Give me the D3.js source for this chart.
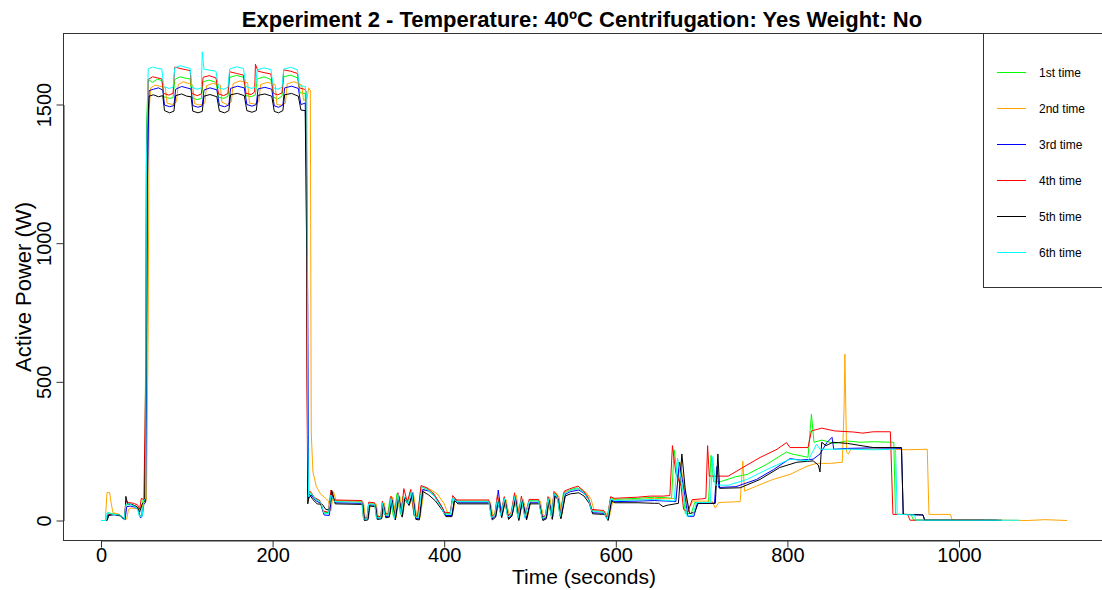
<!DOCTYPE html>
<html>
<head>
<meta charset="utf-8">
<script src="https://cdn.jsdelivr.net/npm/d3@7"></script>
<style>
  body { margin: 0; background: #fff; }
  text { font-family: "Liberation Sans", Arial, sans-serif; }
</style>
</head>
<body>
<div id="chart"></div>
<script>
// Data: [time (s), active power (W)]
const time1 = [[0,0],[6,0],[8,28],[14,24],[22,20],[25,12],[27,4],[29,55],[33,60],[38,55],[43,45],[45,15],[47,18],[49,75],[51,70],[52,600],[53,1420],[55,1590],
  [60,1580],[66,1592],[71,1585],[73,1528],[80,1522],[84,1525],[86,1590],[92,1600],[98,1595],[104,1592],[106,1524],[112,1518],[117,1522],[119,1582],[126,1588],[134,1580],[137,1526],[143,1522],[148,1530],[150,1598],[158,1605],[166,1598],[169,1532],[175,1528],[180,1535],[182,1592],[190,1600],[198,1590],[201,1526],[206,1520],[211,1530],[213,1600],[221,1606],[229,1596],[232,1542],[238,1540],
  [240,1300],[241,95],[244,100],[249,80],[255,68],[259,30],[265,28],[268,95],[272,70],[290,70],[304,68],[306,8],[310,6],[312,62],[319,60],[321,12],[326,10],[328,66],[330,22],[334,20],[337,82],[341,12],[345,96],[349,22],[352,88],[357,62],[361,108],[365,16],[369,12],[373,122],[380,114],[388,92],[396,52],[400,26],[407,24],[410,84],[414,70],
  [452,70],[455,12],[459,22],[462,78],[466,20],[470,82],[474,14],[478,24],[482,88],[486,10],[490,80],[494,12],[499,72],[510,72],[514,10],[518,16],[521,82],[525,14],[528,98],[532,86],[535,16],[539,100],[546,110],[555,118],[562,104],[568,78],[572,36],[586,32],[590,6],[594,82],[598,76],[625,80],[645,84],[660,82],[665,80],[668,255],[672,160],[678,120],[681,25],[688,25],[692,65],[708,65],[711,235],[714,140],
  [722,140],[740,158],[753,166],[776,203],[799,247],[805,240],[824,228],[828,383],[831,282],[840,290],[855,278],[869,287],[885,282],[900,284],[924,282],[926,22],[944,22],[947,2],[1040,1]];

const time2 = [[0,0],[5,0],[7,100],[10,101],[12,60],[14,28],[22,22],[25,10],[28,5],[30,5],[32,40],[35,45],[44,42],[47,48],[50,60],[53,75],[55,700],[56,1480],[58,1560],
  [63,1570],[70,1565],[75,1562],[77,1505],[83,1500],[88,1510],[90,1572],[96,1582],[103,1575],[107,1570],[109,1503],[115,1498],[121,1505],[123,1568],[130,1576],[139,1570],[141,1508],[147,1500],[152,1510],[154,1575],[162,1585],[171,1578],[173,1505],[179,1502],[184,1510],[186,1572],[194,1580],[203,1572],[205,1500],[210,1498],[215,1505],[217,1575],[225,1582],[234,1570],[236,1515],[240,1520],[242,1560],[244,1550],
  [245,320],[247,175],[251,122],[256,95],[262,80],[265,70],[268,35],[271,104],[274,72],[306,66],[308,10],[312,8],[314,60],[321,58],[323,14],[328,12],[330,64],[333,18],[337,22],[340,85],[344,10],[348,90],[352,20],[355,84],[360,60],[364,102],[368,14],[372,10],[377,118],[384,112],[392,96],[400,60],[404,28],[410,22],[413,80],[417,66],
  [454,66],[457,12],[461,26],[464,80],[468,22],[472,76],[476,14],[480,26],[484,92],[488,12],[492,78],[497,10],[501,70],[512,70],[516,8],[520,14],[523,84],[527,12],[530,100],[534,84],[537,18],[542,104],[549,110],[558,116],[565,102],[571,78],[575,34],[588,30],[592,6],[597,78],[601,72],[628,76],[645,80],[660,78],[670,80],[675,210],[680,120],[684,40],[690,70],[712,70],[716,45],[720,65],[745,68],[748,214],[750,106],
  [764,124],[783,148],[803,166],[823,196],[834,206],[850,206],[864,210],[866,400],[867,600],[868,420],[869,246],[871,240],[874,257],[900,258],[940,255],[963,257],[965,22],[990,22],[992,3],[1040,2],[1080,0],[1100,3],[1126,0]];

const time3 = [[0,0],[7,0],[9,22],[16,20],[23,18],[26,8],[28,2],[30,50],[34,52],[40,48],[43,40],[46,10],[48,15],[50,60],[52,65],[53,450],[54,1200],[56,1550],
  [61,1555],[67,1560],[72,1552],[74,1498],[80,1492],[85,1496],[87,1555],[94,1565],[100,1560],[105,1556],[107,1496],[113,1490],[118,1495],[120,1552],[127,1560],[135,1553],[138,1497],[144,1492],[149,1498],[151,1558],[159,1566],[167,1560],[170,1500],[176,1494],[181,1500],[183,1556],[191,1562],[199,1555],[202,1495],[207,1490],[212,1498],[214,1560],[222,1566],[230,1558],[233,1500],[238,1505],
  [240,1200],[241,750],[242,80],[245,92],[250,72],[256,62],[260,20],[266,18],[269,90],[273,64],[305,62],[307,2],[311,4],[313,56],[320,55],[322,6],[327,8],[329,60],[332,14],[336,16],[339,76],[343,6],[347,88],[351,16],[354,84],[359,58],[363,100],[367,8],[371,6],[375,112],[382,106],[390,84],[398,46],[402,18],[409,18],[412,78],[416,64],
  [453,64],[456,6],[460,16],[463,110],[467,14],[471,74],[475,8],[479,20],[483,84],[487,4],[491,74],[496,6],[500,64],[511,64],[515,4],[519,10],[522,76],[526,8],[529,92],[533,80],[536,10],[541,94],[547,104],[557,110],[563,98],[569,72],[573,28],[587,26],[591,2],[595,74],[599,68],[626,70],[645,72],[660,70],[670,68],[674,210],[679,120],[684,15],[691,15],[695,62],[715,62],[718,195],[720,119],
  [740,122],[764,148],[784,184],[803,223],[815,218],[830,221],[838,240],[846,281],[852,300],[854,257],[870,260],[900,262],[933,260],[935,22],[958,20],[960,1],[1045,1]];

const time4 = [[0,0],[6,0],[8,20],[15,22],[22,20],[25,8],[27,3],[29,70],[32,65],[38,62],[43,55],[45,40],[47,80],[50,75],[52,500],[53,1300],[55,1590],
  [60,1600],[66,1596],[71,1592],[73,1540],[79,1534],[84,1540],[86,1635],[92,1630],[98,1626],[104,1622],[106,1540],[112,1532],[117,1538],[119,1598],[126,1604],[134,1596],[137,1538],[143,1532],[148,1540],[150,1618],[158,1612],[166,1606],[169,1540],[175,1536],[179,1545],[180,1645],[183,1620],[190,1615],[198,1610],[201,1540],[206,1535],[211,1542],[213,1625],[221,1620],[229,1612],[231,1560],[237,1555],[239,1548],
  [240,500],[241,100],[244,105],[249,82],[255,72],[259,34],[265,30],[268,110],[272,74],[304,72],[306,10],[310,8],[312,66],[319,64],[321,16],[326,14],[328,70],[331,24],[335,24],[338,88],[342,14],[346,100],[350,26],[353,115],[357,66],[361,112],[365,18],[369,14],[373,126],[380,118],[388,96],[396,56],[400,30],[407,28],[410,90],[414,74],
  [452,74],[455,14],[459,24],[462,92],[466,22],[470,86],[474,16],[478,28],[482,100],[486,12],[490,88],[494,14],[499,76],[510,76],[514,12],[518,18],[521,86],[525,16],[528,105],[532,90],[535,18],[540,106],[546,114],[556,124],[562,108],[568,82],[572,40],[586,36],[590,8],[594,86],[598,80],[625,84],[640,88],[655,88],[663,90],[666,270],[670,170],[676,125],[679,40],[684,30],[689,75],[700,78],[705,80],[707,270],[709,160],
  [731,160],[748,191],[768,227],[788,257],[799,281],[803,263],[824,263],[828,323],[840,333],[855,323],[877,319],[888,315],[900,320],[920,320],[923,22],[940,22],[943,1],[1030,1]];

const time5 = [[0,0],[7,0],[9,18],[16,22],[23,16],[26,6],[28,10],[29,87],[31,60],[36,58],[42,50],[45,30],[48,60],[51,70],[53,600],[54,1400],[56,1530],
  [61,1535],[67,1528],[72,1532],[74,1478],[80,1470],[85,1476],[87,1532],[94,1538],[100,1530],[105,1528],[107,1476],[113,1470],[118,1475],[120,1530],[127,1536],[135,1528],[138,1476],[144,1470],[149,1478],[151,1535],[159,1540],[167,1532],[170,1478],[176,1472],[181,1478],[183,1533],[191,1538],[199,1530],[202,1475],[207,1470],[212,1478],[214,1535],[222,1540],[230,1530],[233,1480],[238,1478],
  [240,900],[241,60],[243,95],[247,75],[252,60],[258,58],[262,40],[266,38],[269,108],[273,60],[305,58],[307,0],[311,2],[313,52],[320,50],[322,4],[327,6],[329,56],[332,10],[336,12],[339,72],[343,2],[347,84],[351,12],[354,80],[359,54],[363,95],[367,4],[371,2],[375,105],[382,92],[390,70],[398,36],[402,14],[409,14],[412,72],[416,60],
  [453,60],[456,2],[460,12],[463,68],[467,10],[471,70],[475,4],[479,16],[483,78],[487,0],[491,70],[496,2],[500,60],[511,60],[515,0],[519,6],[522,72],[526,4],[529,88],[533,74],[536,6],[541,88],[547,96],[557,100],[563,88],[569,62],[573,24],[587,22],[591,0],[595,70],[599,64],[626,64],[645,62],[650,62],[655,50],[660,55],[673,62],[677,240],[681,110],[686,25],[692,30],[696,62],[716,62],[719,240],[721,116],
  [745,118],[768,148],[791,191],[811,210],[830,215],[836,200],[838,175],[840,282],[845,270],[853,282],[870,278],[900,263],[933,263],[935,22],[958,20],[960,1],[1050,1]];

const time6 = [[0,0],[6,0],[7,28],[14,22],[22,20],[25,8],[27,2],[29,58],[33,60],[40,50],[43,38],[45,14],[48,16],[50,72],[52,80],[53,1300],[55,1628],
  [60,1635],[66,1630],[71,1628],[73,1565],[79,1558],[84,1562],[86,1632],[92,1640],[98,1635],[104,1630],[106,1562],[112,1555],[117,1560],[118,1690],[120,1628],[126,1624],[134,1620],[137,1560],[143,1555],[148,1562],[150,1628],[158,1636],[166,1630],[169,1565],[175,1558],[180,1562],[182,1625],[190,1632],[198,1626],[201,1560],[206,1555],[211,1562],[213,1628],[221,1634],[229,1625],[231,1568],[238,1565],
  [240,1520],[241,300],[242,85],[245,98],[250,76],[256,66],[260,26],[265,24],[268,92],[272,68],[304,66],[306,6],[310,4],[312,60],[319,58],[321,10],[326,8],[328,64],[331,20],[335,18],[338,80],[342,8],[346,94],[350,20],[353,86],[358,60],[362,106],[366,14],[370,10],[374,120],[380,112],[388,90],[396,50],[400,24],[407,22],[410,82],[414,68],
  [452,68],[455,10],[459,20],[462,76],[466,18],[470,80],[474,12],[478,22],[482,86],[486,8],[490,78],[494,10],[499,70],[510,70],[514,8],[518,14],[521,80],[525,12],[528,96],[532,84],[535,14],[540,98],[546,108],[556,116],[562,102],[568,76],[572,34],[586,30],[590,4],[594,78],[598,72],[625,74],[645,76],[660,72],[668,70],[672,225],[677,135],[683,15],[690,20],[694,65],[710,65],[713,230],[716,128],
  [731,127],[753,148],[776,184],[803,221],[824,215],[834,275],[838,257],[870,257],[900,255],[926,257],[928,22],[948,20],[950,1],[1070,1]];

const seriesNames = ["1st time", "2nd time", "3rd time", "4th time", "5th time", "6th time"];
const seriesColors = ["#00ff00", "#ffa500", "#0000ff", "#ff0000", "#000000", "#00ffff"];
const seriesData = [time1, time2, time3, time4, time5, time6];
const xTicks = [0, 200, 400, 600, 800, 1000];
const yTicks = [0, 500, 1000, 1500];

// Layout
const W = 1102, H = 590;
const plot = { left: 63, top: 33, right: 1106, bottom: 540 };

const svg = d3.select("#chart").append("svg")
  .attr("width", W)
  .attr("height", H);

svg.append("rect").attr("width", W).attr("height", H).attr("fill", "#fff");

// Scales (R style: 4% padding around data range)
const x = d3.scaleLinear().domain([0, 1000]).range([101, 959]);
const y = d3.scaleLinear().domain([0, 1500]).range([520.5, 104.5]);

// Lines
const line = d3.line()
  .x(d => x(d[0]))
  .y(d => y(d[1]));

seriesData.forEach((s, i) => {
  svg.append("path")
    .datum(s)
    .attr("d", line)
    .attr("fill", "none")
    .attr("stroke", seriesColors[i])
    .attr("stroke-width", 1)
    .attr("stroke-linejoin", "round");
});

// Plot box
svg.append("rect")
  .attr("x", plot.left + 0.5)
  .attr("y", plot.top + 0.5)
  .attr("width", plot.right - plot.left)
  .attr("height", plot.bottom - plot.top)
  .attr("fill", "none")
  .attr("stroke", "#333")
  .attr("stroke-width", 1);

// X axis
const xAxis = svg.append("g")
  .attr("transform", `translate(0,${plot.bottom + 0.5})`)
  .call(d3.axisBottom(x).tickValues(xTicks).tickFormat(d3.format("d"))
    .tickSize(7).tickPadding(0).tickSizeOuter(0));
xAxis.select(".domain").attr("stroke", "#333");
xAxis.selectAll(".tick line").attr("stroke", "#333");
xAxis.selectAll(".tick text")
  .attr("font-size", 20)
  .attr("font-family", "Liberation Sans, Arial, sans-serif")
  .attr("fill", "#000");

// Y axis, labels parallel to axis
const yAxis = svg.append("g")
  .attr("transform", `translate(${plot.left + 0.5},0)`)
  .call(d3.axisLeft(y).tickValues(yTicks).tickFormat(d3.format("d"))
    .tickSize(7).tickSizeOuter(0));
yAxis.select(".domain").attr("stroke", "#333");
yAxis.selectAll(".tick line").attr("stroke", "#333");
yAxis.selectAll(".tick text")
  .attr("font-size", 20)
  .attr("font-family", "Liberation Sans, Arial, sans-serif")
  .attr("fill", "#000")
  .attr("x", 0).attr("dy", 0)
  .attr("text-anchor", "middle")
  .attr("transform", "translate(-13,0) rotate(-90)");

// Titles
svg.append("text")
  .attr("x", 582).attr("y", 27)
  .attr("text-anchor", "middle")
  .attr("font-size", 22)
  .attr("font-weight", "bold")
  .text("Experiment 2 - Temperature: 40ºC Centrifugation: Yes Weight: No");

svg.append("text")
  .attr("x", 584).attr("y", 584)
  .attr("text-anchor", "middle")
  .attr("font-size", 21)
  .text("Time (seconds)");

svg.append("text")
  .attr("transform", "translate(31,287) rotate(-90)")
  .attr("text-anchor", "middle")
  .attr("font-size", 22)
  .text("Active Power (W)");

// Legend
const legend = svg.append("g");
legend.append("rect")
  .attr("x", 983.5).attr("y", plot.top + 0.5)
  .attr("width", 130).attr("height", 254)
  .attr("fill", "#fff")
  .attr("stroke", "#333");

seriesNames.forEach((name, i) => {
  const ly = 72 + i * 36;
  legend.append("line")
    .attr("x1", 997).attr("x2", 1026)
    .attr("y1", ly + 0.5).attr("y2", ly + 0.5)
    .attr("stroke", seriesColors[i]);
  legend.append("text")
    .attr("x", 1039).attr("y", ly + 4.5)
    .attr("font-size", 12)
    .text(name);
});
</script>
</body>
</html>
